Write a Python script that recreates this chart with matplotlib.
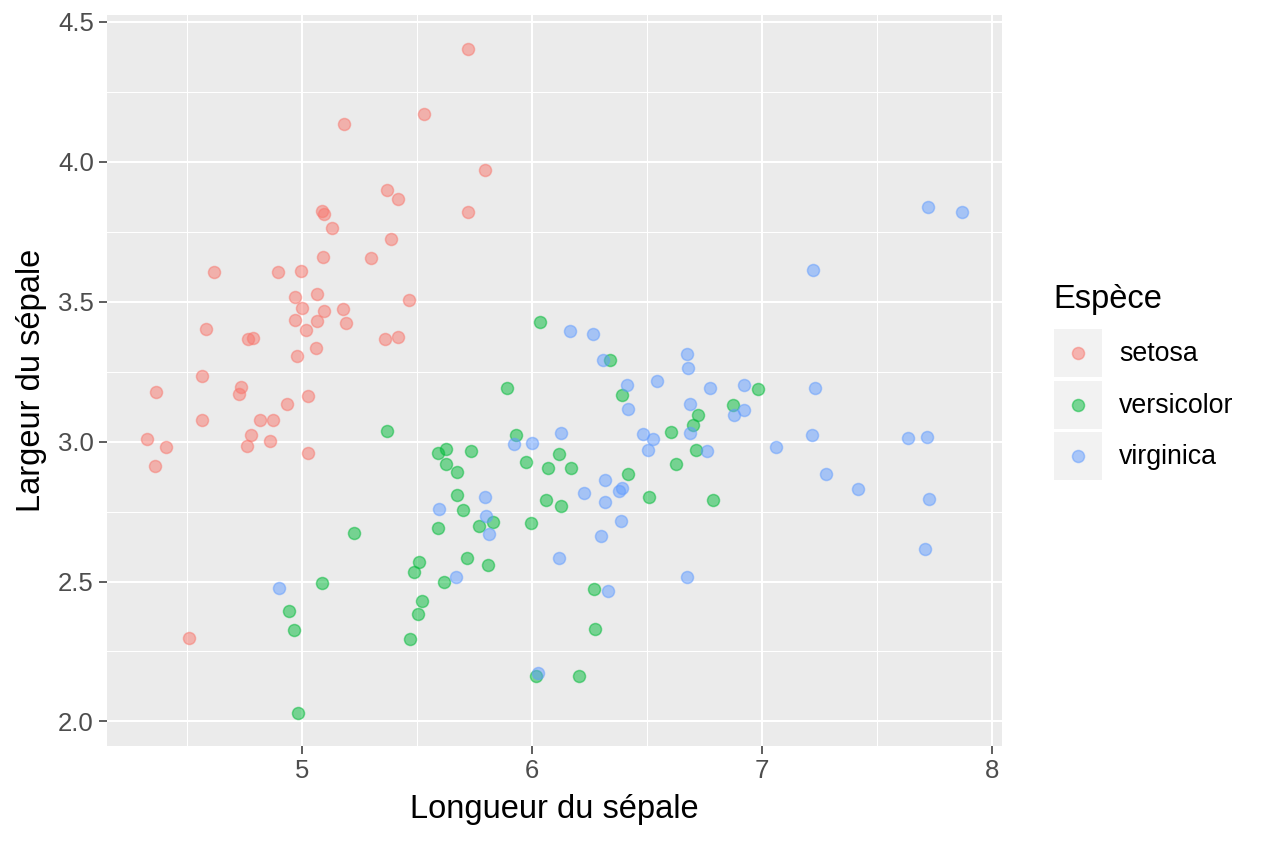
import matplotlib
matplotlib.use("Agg")
import matplotlib.pyplot as plt
from matplotlib.patches import Rectangle
import numpy as np

plt.rcParams['font.family'] = ['Liberation Sans', 'DejaVu Sans']

species = ["setosa", "versicolor", "virginica"]
colors = ["#F8766D", "#00BA38", "#619CFF"]

setosa_x = [5.722, 5.184, 5.529, 5.796, 5.370, 5.417, 5.720, 5.087, 5.096, 5.132,
            5.386, 5.090, 5.299, 4.616, 4.896, 4.996, 4.968, 5.064, 5.465, 5.001,
            5.094, 5.180, 4.971, 5.064, 5.193, 5.016, 4.583, 4.765, 4.786, 5.362,
            5.416, 5.062, 4.980, 4.565, 4.364, 4.734, 4.727, 5.027, 4.935, 4.565,
            4.819, 4.873, 4.780, 4.326, 4.861, 4.410, 4.762, 5.027, 4.362, 4.509]
setosa_y = [4.403, 4.135, 4.170, 3.970, 3.899, 3.866, 3.822, 3.824, 3.814, 3.763,
            3.726, 3.660, 3.658, 3.608, 3.606, 3.609, 3.518, 3.529, 3.508, 3.478,
            3.468, 3.475, 3.433, 3.432, 3.425, 3.398, 3.403, 3.366, 3.370, 3.368,
            3.373, 3.336, 3.306, 3.235, 3.178, 3.197, 3.170, 3.162, 3.135, 3.077,
            3.077, 3.077, 3.024, 3.009, 3.004, 2.982, 2.985, 2.959, 2.913, 2.297]

versicolor_x = [5.370, 4.942, 4.965, 5.085, 5.228, 4.981, 5.593, 5.626, 5.625, 5.674,
                5.735, 5.674, 5.699, 5.593, 5.829, 5.768, 5.509, 5.486, 5.619, 5.717,
                5.807, 5.522, 5.504, 5.470, 5.929, 5.974, 6.119, 6.068, 6.168, 6.062,
                6.125, 5.997, 6.016, 6.204, 6.036, 6.340, 5.891, 6.391, 6.981, 6.722,
                6.699, 6.875, 6.606, 6.712, 6.626, 6.419, 6.509, 6.787, 6.270, 6.273]
versicolor_y = [3.037, 2.393, 2.327, 2.496, 2.673, 2.029, 2.960, 2.974, 2.919, 2.891,
                2.965, 2.810, 2.757, 2.692, 2.712, 2.697, 2.571, 2.533, 2.500, 2.584,
                2.558, 2.430, 2.383, 2.295, 3.023, 2.926, 2.957, 2.906, 2.906, 2.790,
                2.769, 2.710, 2.163, 2.161, 3.428, 3.290, 3.193, 3.166, 3.187, 3.094,
                3.061, 3.132, 3.035, 2.971, 2.920, 2.885, 2.801, 2.792, 2.472, 2.332]

virginica_x = [4.899, 5.597, 5.794, 5.799, 5.814, 5.671, 5.923, 5.999, 6.127, 6.116,
               6.027, 6.165, 6.265, 6.307, 6.413, 6.419, 6.541, 6.675, 6.678, 6.773,
               6.923, 6.687, 6.688, 6.878, 6.923, 6.481, 6.527, 6.503, 6.762, 7.062,
               6.316, 6.390, 6.377, 6.227, 6.319, 6.387, 6.301, 6.672, 6.329, 7.723,
               7.871, 7.220, 7.230, 7.216, 7.633, 7.719, 7.277, 7.419, 7.727, 7.707]
virginica_y = [2.476, 2.760, 2.801, 2.733, 2.670, 2.515, 2.991, 2.996, 3.031, 2.584,
               2.173, 3.396, 3.386, 3.290, 3.203, 3.117, 3.217, 3.313, 3.262, 3.193,
               3.203, 3.136, 3.031, 3.094, 3.114, 3.026, 3.009, 2.970, 2.966, 2.982,
               2.863, 2.835, 2.823, 2.816, 2.785, 2.717, 2.662, 2.515, 2.465, 3.838,
               3.820, 3.613, 3.192, 3.023, 3.014, 3.015, 2.885, 2.832, 2.796, 2.616]

x_ticks = [5, 6, 7, 8]
y_ticks = [2.0, 2.5, 3.0, 3.5, 4.0, 4.5]
y_ticklabels = ["2.0", "2.5", "3.0", "3.5", "4.0", "4.5"]

W, H = 1264, 843
fig = plt.figure(figsize=(W / 100, H / 100), dpi=100)
fig.patch.set_facecolor("white")

px = lambda v: v / W
py = lambda v: v / H
ax = fig.add_axes([px(107), 1 - py(746), px(1002 - 107), py(746 - 15)])
ax.set_facecolor("#EBEBEB")
for s in ax.spines.values():
    s.set_visible(False)

ax.set_xlim(4.152, 8.043)
ax.set_ylim(1.912, 4.525)
ax.set_xticks(x_ticks)
ax.set_yticks(y_ticks)
ax.set_yticklabels(y_ticklabels)
ax.set_xticks([4.5, 5.5, 6.5, 7.5], minor=True)
ax.set_yticks([2.25, 2.75, 3.25, 3.75, 4.25], minor=True)
ax.grid(which="major", color="white", linewidth=1.5)
ax.grid(which="minor", color="white", linewidth=0.75)
ax.set_axisbelow(True)
ax.tick_params(which="major", length=5.5, width=1.1, color="#333333",
               labelsize=18.5, labelcolor="#4D4D4D", pad=4)
ax.tick_params(which="minor", length=0)

data = [(setosa_x, setosa_y), (versicolor_x, versicolor_y), (virginica_x, virginica_y)]
for (xs, ys), c in zip(data, colors):
    rgba_f = matplotlib.colors.to_rgba(c, 0.5)
    ax.scatter(xs, ys, s=75, facecolor=[rgba_f], edgecolor=[rgba_f],
               linewidths=1.1, zorder=3)

ax.set_xlabel("Longueur du sépale", fontsize=23.5, labelpad=8, color="black")
ax.set_ylabel("Largeur du sépale", fontsize=23.5, labelpad=8, color="black")

# legend
lax = fig.add_axes([0, 0, 1, 1])
lax.set_xlim(0, W)
lax.set_ylim(H, 0)
lax.axis("off")
lax.patch.set_alpha(0)
lax.text(1053, 308, "Espèce", fontsize=23.5, color="black", ha="left", va="baseline")
key_tops = [329, 381, 432]
for sp, c, t in zip(species, colors, key_tops):
    lax.add_patch(Rectangle((1054, t), 48, 48, facecolor="#F2F2F2", edgecolor="none"))
    rgba_f = matplotlib.colors.to_rgba(c, 0.5)
    lax.scatter([1078], [t + 24], s=75, facecolor=[rgba_f], edgecolor=[rgba_f],
                linewidths=1.1, zorder=3)
    lax.text(1119, t + 25, sp, fontsize=19.3, color="black", ha="left", va="center")

fig.savefig("out.png", dpi=100)
